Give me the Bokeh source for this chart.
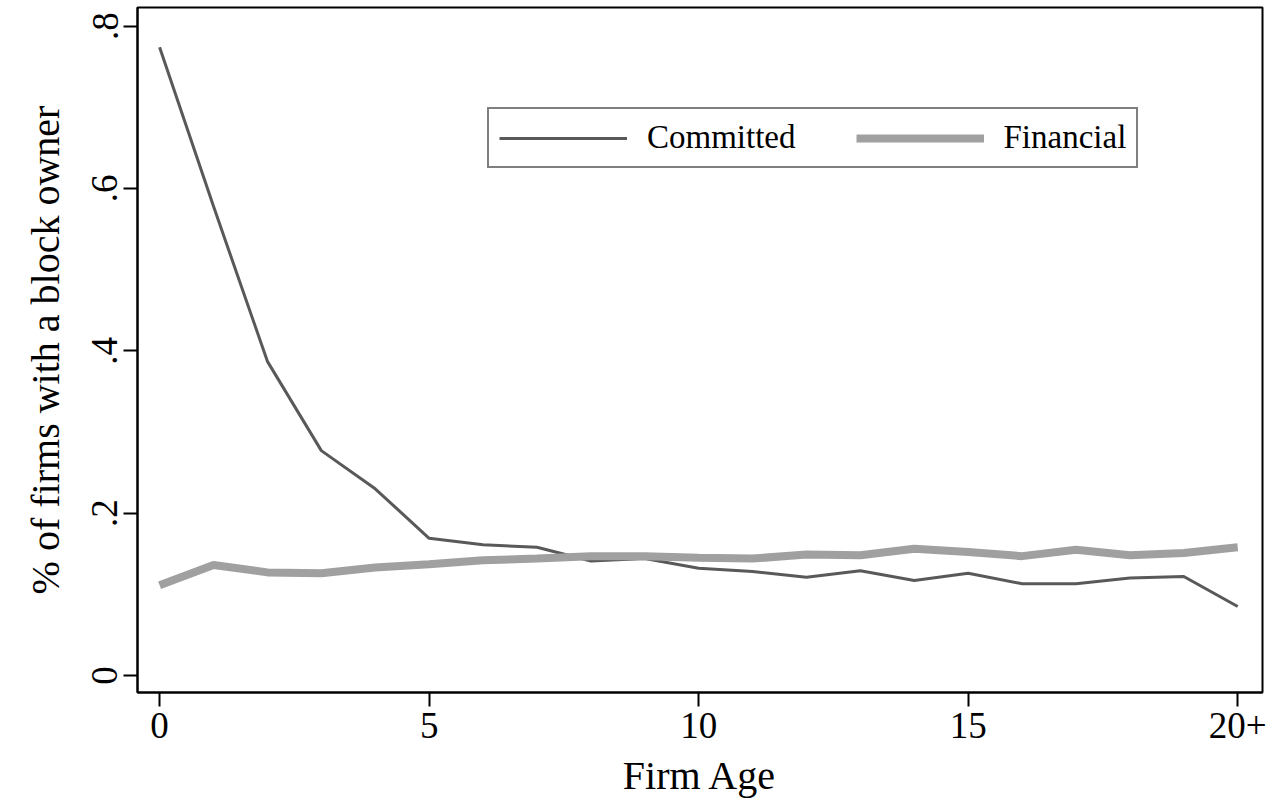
from bokeh.plotting import figure
from bokeh.models import Legend, LegendItem, FixedTicker
from bokeh.embed import file_html
from bokeh.resources import INLINE

firm_age = list(range(21))
committed = [0.774, 0.578, 0.387, 0.277, 0.230, 0.169, 0.161, 0.158, 0.141, 0.144,
             0.132, 0.128, 0.121, 0.129, 0.117, 0.126, 0.113, 0.113, 0.120, 0.122, 0.085]
financial = [0.111, 0.136, 0.127, 0.126, 0.133, 0.137, 0.142, 0.144, 0.147, 0.147,
             0.145, 0.144, 0.149, 0.148, 0.156, 0.152, 0.147, 0.155, 0.148, 0.151, 0.158]
x_ticks = [0, 5, 10, 15, 20]
x_tick_labels = ["0", "5", "10", "15", "20+"]
y_ticks = [0, 0.2, 0.4, 0.6, 0.8]
y_tick_labels = ["0", ".2", ".4", ".6", ".8"]

FONT = "Liberation Serif"

p = figure(width=1274, height=810, output_backend="svg", toolbar_location=None,
           x_range=(-0.41, 20.46), y_range=(-0.021, 0.823),
           frame_width=1125, frame_height=685,
           min_border_left=137, min_border_right=12, min_border_top=7, min_border_bottom=118)

p.background_fill_color = "white"
p.border_fill_color = "white"
p.outline_line_color = "black"
p.outline_line_width = 2
p.xgrid.visible = False
p.ygrid.visible = False

r1 = p.line(firm_age, committed, line_color="#595959", line_width=3)
r2 = p.line(firm_age, financial, line_color="#a0a0a0", line_width=8)

for ax in (p.xaxis[0], p.yaxis[0]):
    ax.axis_line_color = "black"
    ax.axis_line_width = 2
    ax.major_tick_line_color = "black"
    ax.major_tick_line_width = 2
    ax.major_tick_out = 14
    ax.major_tick_in = 0
    ax.minor_tick_line_color = None
    ax.major_label_text_font = FONT
    ax.major_label_text_font_size = "37px"
    ax.major_label_text_color = "black"
    ax.axis_label_text_font = FONT
    ax.axis_label_text_font_size = "40px"
    ax.axis_label_text_font_style = "normal"
    ax.axis_label_text_color = "black"

p.xaxis.ticker = FixedTicker(ticks=x_ticks)
p.xaxis.major_label_overrides = {t: l for t, l in zip(x_ticks, x_tick_labels)}
p.xaxis.axis_label = "Firm Age"
p.xaxis.major_label_standoff = 6
p.xaxis.axis_label_standoff = 12

p.yaxis.ticker = FixedTicker(ticks=y_ticks)
p.yaxis.major_label_overrides = {t: l for t, l in zip(y_ticks, y_tick_labels)}
p.yaxis.major_label_orientation = "vertical"
p.yaxis.axis_label = "% of firms with a block owner"
p.yaxis.major_label_standoff = 6
p.yaxis.axis_label_standoff = 22

legend = Legend(items=[LegendItem(label="Committed", renderers=[r1]),
                       LegendItem(label="Financial", renderers=[r2])],
                orientation="horizontal", location=(350, 524))
legend.border_line_color = "black"
legend.border_line_width = 2
legend.background_fill_color = "white"
legend.label_text_font = FONT
legend.label_text_font_size = "33px"
legend.label_text_color = "black"
legend.glyph_width = 128
legend.glyph_height = 34
legend.label_standoff = 20
legend.spacing = 60
legend.padding = 10
legend.margin = 0
p.add_layout(legend, "center")

open("out.html", "w").write(file_html(p, INLINE))
